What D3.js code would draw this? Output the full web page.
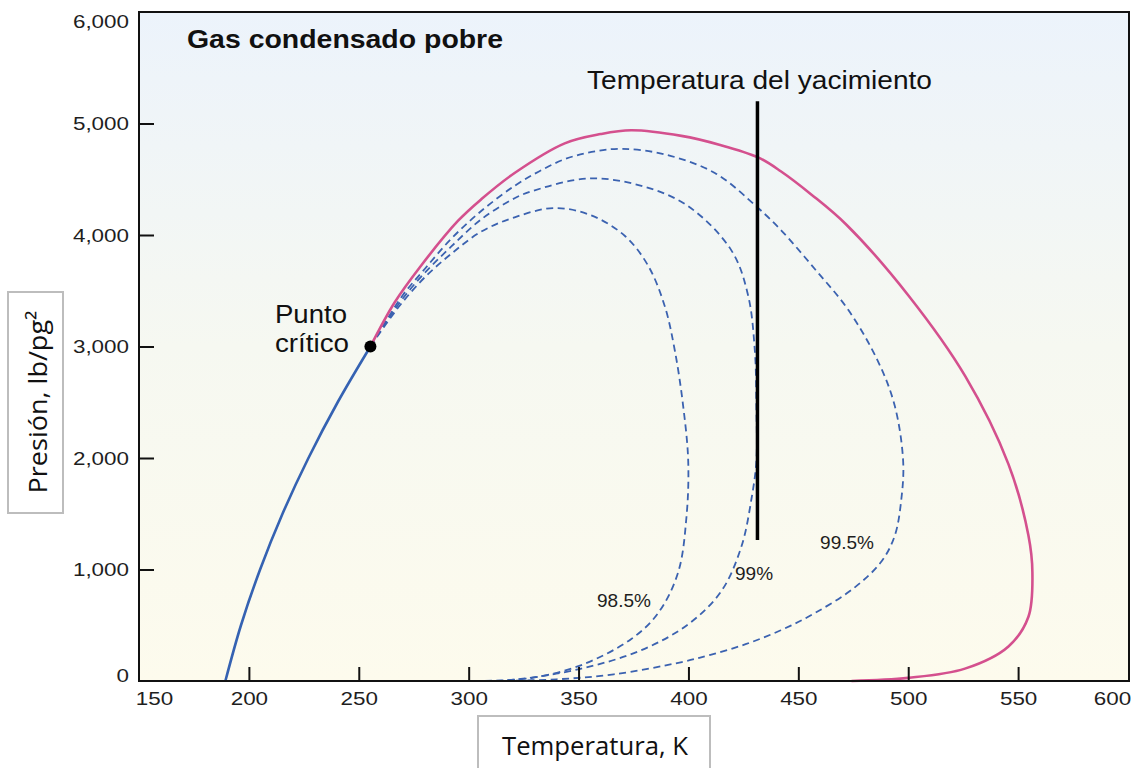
<!DOCTYPE html>
<html>
<head>
<meta charset="utf-8">
<script src="https://cdn.jsdelivr.net/npm/d3@7"></script>
<style>
  body { margin: 0; background: #fff; }
  svg { display: block; }
</style>
</head>
<body>
<div id="chart"></div>
<script>
// ejes
const xTicks = [150, 200, 250, 300, 350, 400, 450, 500, 550, 600];
const yTicks = [0, 1000, 2000, 3000, 4000, 5000, 6000];

// curva de burbuja (azul continua) hasta el punto crítico
const bubbleT = [189.3, 196.4, 205.1, 215.3, 227.1, 240.4, 255.3];
const bubbleP = [0, 500, 1000, 1500, 2000, 2500, 3000];

// curva de rocío (rosa)
const dewT = [255.3, 266.3, 278.4, 295.1, 305.7, 320.9, 343.7, 360, 374, 396.8, 414, 431.7, 442, 456, 472, 500, 526, 545.6, 554.7, 556.5, 554.7, 545.6, 525.8, 500, 474.2];
const dewP = [3000, 3395, 3727, 4126, 4320, 4556, 4822, 4905, 4939, 4889, 4810, 4696, 4572, 4362, 4090, 3460, 2732, 1945, 1305, 974, 576, 310, 111, 28, 0];

// líneas de calidad (azul discontinua)
const q995T = [255.3, 262, 270, 280, 292, 305.7, 320.9, 332, 343.7, 356, 369.5, 389.2, 412, 431.7, 442.3, 457.5, 472.7, 486.3, 493.9, 497.7, 496.9, 493.9, 487.9, 475.7, 457.5, 442, 426, 410, 397, 366, 340, 313];
const q995P = [3000, 3215, 3460, 3695, 3965, 4215, 4441, 4570, 4680, 4745, 4773, 4723, 4556, 4242, 4040, 3695, 3329, 2865, 2466, 1969, 1637, 1305, 1074, 840, 609, 455, 330, 235, 170, 60, 15, 0];

const q99T = [255.3, 262, 270, 280, 292, 305.7, 320.9, 328.5, 354.3, 378.6, 399.9, 419.6, 427.1, 430.2, 430.9, 430.9, 428.7, 424.1, 415, 399.9, 378.6, 351.3, 320.9, 308];
const q99P = [3000, 3205, 3430, 3660, 3895, 4140, 4330, 4391, 4507, 4441, 4258, 3860, 3462, 2964, 2466, 1969, 1637, 1206, 807, 509, 277, 111, 12, 0];

const q985T = [255.3, 262, 270, 280, 292, 305.7, 320.9, 339.1, 355.8, 371, 381.6, 389.2, 393.8, 397.6, 399.9, 399.1, 395.3, 386.2, 374, 351.3, 328.5, 305.7];
const q985P = [3000, 3190, 3400, 3620, 3830, 4030, 4159, 4242, 4176, 3993, 3727, 3363, 2964, 2466, 1969, 1471, 974, 609, 377, 143, 27, 0];

const qualityNames = ["98.5%", "99%", "99.5%"];
const qualityLabelT = [358.4, 421.2, 459.9];
const qualityLabelP = [664, 906, 1184];

const criticalT = 255.3, criticalP = 3000;
const reservoirT = 431.4;
const reservoirP = [1265, 5200];

const zip = (a, b) => a.map((v, i) => [v, b[i]]);

const W = 1138, H = 768;
const plotL = 139, plotR = 1129, plotT = 12, plotB = 681;

const svg = d3.select("#chart").append("svg")
    .attr("width", W).attr("height", H);

const defs = svg.append("defs");
const grad = defs.append("linearGradient")
    .attr("id", "bg").attr("x1", 0).attr("y1", 0).attr("x2", 0).attr("y2", 1);
grad.append("stop").attr("offset", "0%").attr("stop-color", "#ecf3fb");
grad.append("stop").attr("offset", "50%").attr("stop-color", "#f6f8f1");
grad.append("stop").attr("offset", "100%").attr("stop-color", "#fdfbed");

const x = d3.scaleLinear().domain([150, 600]).range([plotL, plotR - 1]);
const y = d3.scaleLinear().domain([0, 6000]).range([plotB, plotT]);

svg.append("rect")
    .attr("x", plotL).attr("y", plotT)
    .attr("width", plotR - plotL).attr("height", plotB - plotT)
    .attr("fill", "url(#bg)");

// estira el texto a lo ancho, como en la figura original
function stretch(sel, k) {
    sel.each(function () {
        const w = this.getComputedTextLength();
        d3.select(this).attr("textLength", w * k).attr("lengthAdjust", "spacingAndGlyphs");
    });
}

const line = d3.line()
    .x(d => x(d[0]))
    .y(d => y(d[1]))
    .curve(d3.curveCatmullRom.alpha(0.5));

const plot = svg.append("g");

[q985T, q99T, q995T].forEach((ts, i) => {
    const ps = [q985P, q99P, q995P][i];
    plot.append("path")
        .attr("d", line(zip(ts, ps)))
        .attr("fill", "none")
        .attr("stroke", "#3b62b0")
        .attr("stroke-width", 1.8)
        .attr("stroke-dasharray", "7,4.5");
});

plot.append("path")
    .attr("d", line(zip(dewT, dewP)))
    .attr("fill", "none")
    .attr("stroke", "#d4508e")
    .attr("stroke-width", 2.6);

plot.append("path")
    .attr("d", line(zip(bubbleT, bubbleP)))
    .attr("fill", "none")
    .attr("stroke", "#3562b2")
    .attr("stroke-width", 2.6);

plot.append("line")
    .attr("x1", x(reservoirT)).attr("x2", x(reservoirT))
    .attr("y1", y(reservoirP[0])).attr("y2", y(reservoirP[1]))
    .attr("stroke", "#000").attr("stroke-width", 3.5);

plot.append("circle")
    .attr("cx", x(criticalT)).attr("cy", y(criticalP))
    .attr("r", 6).attr("fill", "#000");

// marco
svg.append("rect")
    .attr("x", plotL).attr("y", plotT)
    .attr("width", plotR - plotL).attr("height", plotB - plotT)
    .attr("fill", "none").attr("stroke", "#111").attr("stroke-width", 2);

const gx = svg.append("g")
    .attr("transform", `translate(0,${plotB})`)
    .call(d3.axisBottom(x).tickValues(xTicks).tickSize(-14).tickPadding(11).tickFormat(d3.format("d")));
const gy = svg.append("g")
    .attr("transform", `translate(${plotL},0)`)
    .call(d3.axisLeft(y).tickValues(yTicks).tickSize(-15).tickPadding(10).tickFormat(d3.format(",")));

[gx, gy].forEach(g => {
    g.select(".domain").remove();
    g.selectAll(".tick line").attr("stroke", "#111").attr("stroke-width", 2);
    g.selectAll(".tick text")
        .attr("fill", "#1e1e1e")
        .style("font-family", "'Liberation Sans', Arial, sans-serif")
        .style("font-size", "19px");
});
gx.selectAll(".tick").filter(d => d === 150 || d === 600).select("line").remove();
gy.selectAll(".tick").filter(d => d === 0 || d === 6000).select("line").remove();
gx.selectAll(".tick").filter(d => d === 150).select("text").attr("x", 15);
gx.selectAll(".tick").filter(d => d === 600).select("text").attr("x", -16);
gy.selectAll(".tick").filter(d => d === 6000).select("text").attr("y", 9);
gy.selectAll(".tick").filter(d => d === 0).select("text").attr("y", -6);
stretch(gx.selectAll(".tick text"), 1.18);
stretch(gy.selectAll(".tick text"), 1.18);

// textos
const sans = "'Liberation Sans', Arial, sans-serif";

svg.append("text")
    .attr("x", 187).attr("y", 48)
    .style("font-family", sans).style("font-size", "26px").style("font-weight", "bold")
    .attr("fill", "#111")
    .attr("textLength", 316).attr("lengthAdjust", "spacingAndGlyphs")
    .text("Gas condensado pobre");

svg.append("text")
    .attr("x", 587).attr("y", 89)
    .style("font-family", sans).style("font-size", "26px")
    .attr("fill", "#111")
    .attr("textLength", 345).attr("lengthAdjust", "spacingAndGlyphs")
    .text("Temperatura del yacimiento");

svg.append("text")
    .attr("x", 275).attr("y", 323)
    .style("font-family", sans).style("font-size", "26px")
    .attr("fill", "#111")
    .attr("textLength", 72).attr("lengthAdjust", "spacingAndGlyphs")
    .text("Punto");
svg.append("text")
    .attr("x", 275).attr("y", 352)
    .style("font-family", sans).style("font-size", "26px")
    .attr("fill", "#111")
    .attr("textLength", 74).attr("lengthAdjust", "spacingAndGlyphs")
    .text("crítico");

svg.selectAll(".qlabel")
    .data(qualityNames)
    .enter()
    .append("text")
    .attr("class", "qlabel")
    .attr("x", (d, i) => x(qualityLabelT[i]))
    .attr("y", (d, i) => y(qualityLabelP[i]))
    .style("font-family", sans).style("font-size", "19px")
    .attr("fill", "#1e1e1e")
    .text(d => d);

// cajas de los títulos de eje
svg.append("rect")
    .attr("x", 8).attr("y", 292).attr("width", 55).attr("height", 221)
    .attr("fill", "#fff").attr("stroke", "#bdbdbd").attr("stroke-width", 2);
svg.append("text")
    .attr("transform", "translate(47,402) rotate(-90)")
    .attr("text-anchor", "middle")
    .style("font-family", "'Open Sans', sans-serif").style("font-size", "25px")
    .attr("fill", "#111")
    .attr("textLength", 183).attr("lengthAdjust", "spacingAndGlyphs")
    .text("Presión, lb/pg²");

svg.append("rect")
    .attr("x", 478).attr("y", 716).attr("width", 232).attr("height", 70)
    .attr("fill", "#fff").attr("stroke", "#bdbdbd").attr("stroke-width", 2);
svg.append("text")
    .attr("x", 595).attr("y", 755)
    .attr("text-anchor", "middle")
    .style("font-family", "'Open Sans', sans-serif").style("font-size", "25px")
    .attr("fill", "#111")
    .attr("textLength", 186).attr("lengthAdjust", "spacingAndGlyphs")
    .text("Temperatura, K");
</script>
</body>
</html>
